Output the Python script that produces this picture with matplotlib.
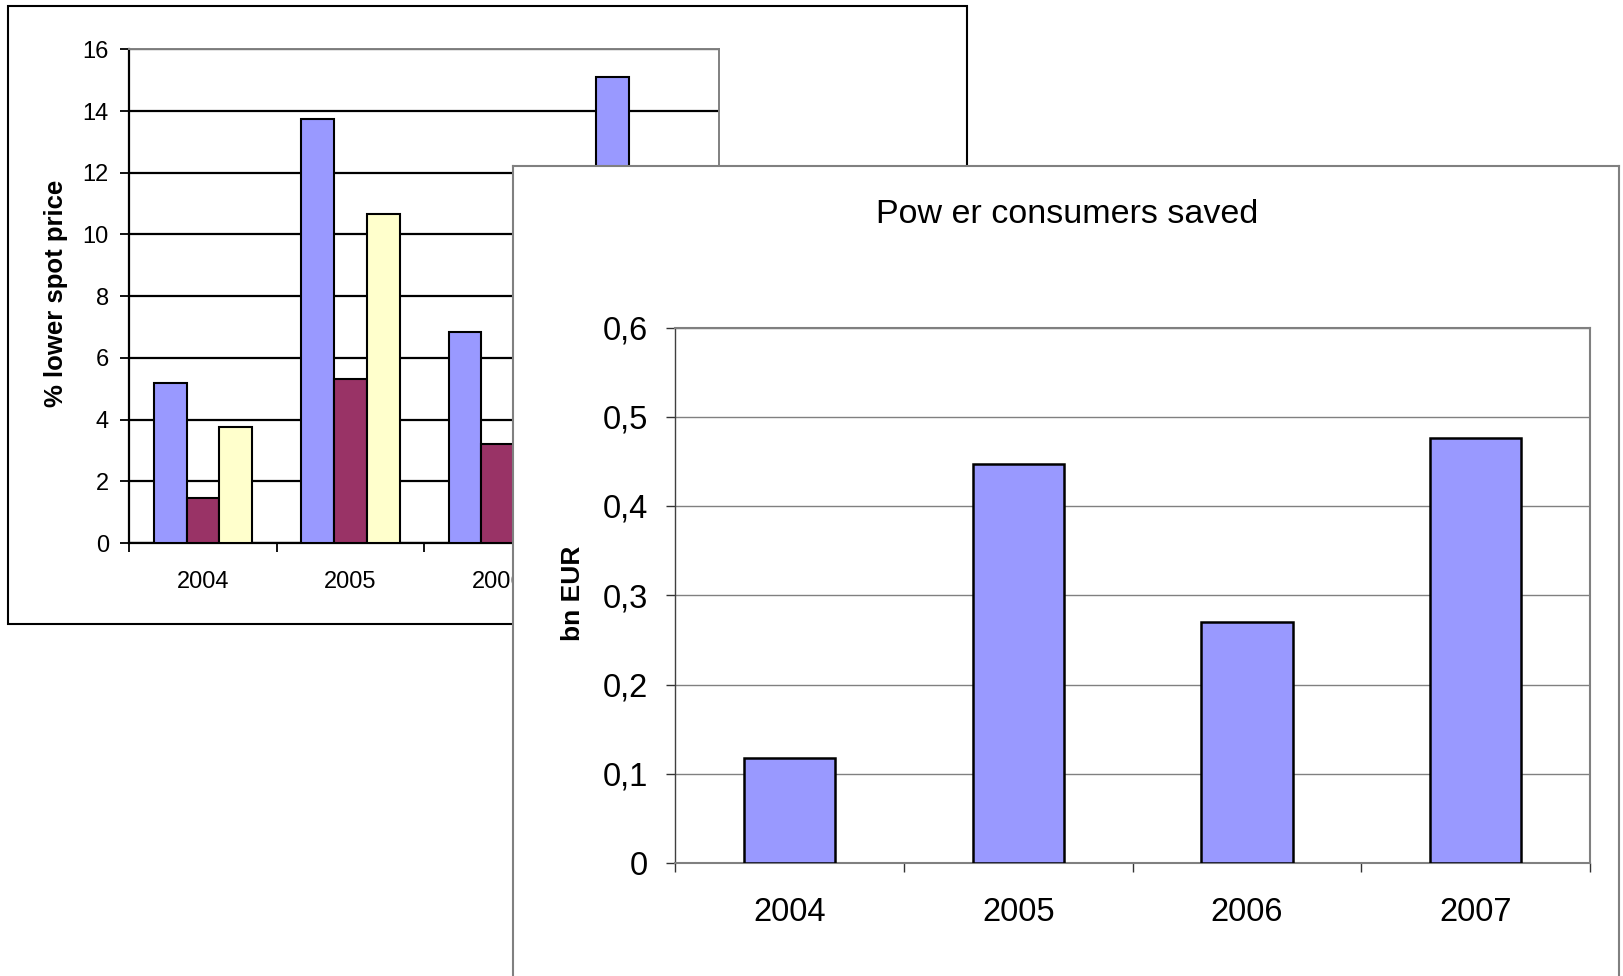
import matplotlib
matplotlib.use("Agg")
import matplotlib.pyplot as plt
from matplotlib.patches import Rectangle
import numpy as np

plt.rcParams['font.family'] = ['Liberation Sans', 'DejaVu Sans']

# ---------------- data ----------------
years = ["2004", "2005", "2006", "2007"]
# back chart (% lower spot price), three series
back_series_a = [5.2, 13.75, 6.85, 15.1]
back_series_b = [1.45, 5.3, 3.2, 5.9]
back_series_c = [3.75, 10.65, 4.9, 10.1]
back_yticks = [0, 2, 4, 6, 8, 10, 12, 14, 16]
back_ylabel = "% lower spot price"
# front chart
front_title = "Pow er consumers saved"
front_values = [0.118, 0.447, 0.270, 0.476]
front_yticks = [0, 0.1, 0.2, 0.3, 0.4, 0.5, 0.6]
front_yticklabels = ["0", "0,1", "0,2", "0,3", "0,4", "0,5", "0,6"]
front_ylabel = "bn EUR"

W, H = 1624, 976
fig = plt.figure(figsize=(W / 100, H / 100), dpi=100)

def fx(px):
    return px / W

def fy(py):
    return 1 - py / H

BLUE = "#9999FF"
MAROON = "#993366"
YELLOW = "#FFFFCC"
GRAY = "#808080"

# ---------------- back chart ----------------
back_frame = Rectangle((fx(8.3), fy(623.5)), fx(967) - fx(8.3), fy(6.2) - fy(623.5),
                       transform=fig.transFigure, facecolor="white",
                       edgecolor="black", linewidth=1.5, zorder=0)
fig.patches.append(back_frame)

axb = fig.add_axes([fx(129.3), fy(543), fx(719) - fx(129.3), fy(49.3) - fy(543)])
axb.set_zorder(1)
x = np.arange(len(years))
bw = 1 / 4.5
for i, (vals, col) in enumerate([(back_series_a, BLUE), (back_series_b, MAROON), (back_series_c, YELLOW)]):
    axb.bar(x + (i - 1) * bw, vals, width=bw, color=col, edgecolor="black",
            linewidth=1.5, zorder=3)
axb.set_xlim(-0.5, len(years) - 0.5)
axb.set_ylim(0, 16)
axb.set_yticks(back_yticks)
axb.set_yticklabels([str(v) for v in back_yticks], fontsize=17)
axb.set_xticks(np.arange(-0.5, len(years)), labels=[""] * (len(years) + 1))
axb.set_xticks(x, labels=years, minor=True)
axb.tick_params(axis="x", which="major", length=6.5, width=1.3, direction="out", color="black")
axb.tick_params(axis="x", which="minor", length=0, pad=20, labelsize=17)
axb.tick_params(axis="y", length=6.2, width=1.3, direction="out", pad=8.5, color="black")
axb.yaxis.grid(True, color="black", linewidth=1.6, zorder=0)
axb.set_axisbelow(True)
for s in ["left", "bottom"]:
    axb.spines[s].set_color("black")
    axb.spines[s].set_linewidth(1.6)
for s in ["top", "right"]:
    axb.spines[s].set_color(GRAY)
    axb.spines[s].set_linewidth(1.4)
# the last back-chart category label lies fully behind the front chart
hidden_clip = Rectangle((0, 0), fx(512.7), 1, transform=fig.transFigure)
for lbl in axb.get_xticklabels(minor=True):
    lbl.set_clip_path(hidden_clip)
axb.get_xticklabels(minor=True)[-1].set_visible(False)
fig.text(fx(56), fy(293), back_ylabel, rotation=90, ha="center", va="center",
         fontsize=18.5, fontweight="bold", zorder=1)

# ---------------- front chart ----------------
axf_frame = fig.add_axes([fx(512.7), -0.05, fx(1619.3) - fx(512.7), fy(165.7) + 0.05])
axf_frame.set_zorder(2)
axf_frame.set_xticks([])
axf_frame.set_yticks([])
axf_frame.set_facecolor("white")
for s in axf_frame.spines.values():
    s.set_color(GRAY)
    s.set_linewidth(1.5)

axf = fig.add_axes([fx(675.3), fy(863), fx(1590) - fx(675.3), fy(327.5) - fy(863)])
axf.set_zorder(3)
axf.set_facecolor("none")
axf.bar(x, front_values, width=1 / 2.5, color=BLUE, edgecolor="black", linewidth=1.8, zorder=3)
axf.set_xlim(-0.5, len(years) - 0.5)
axf.set_ylim(0, 0.6)
axf.set_yticks(front_yticks)
axf.set_yticklabels(front_yticklabels, fontsize=23.5)
axf.set_xticks(np.arange(-0.5, len(years)), labels=[""] * (len(years) + 1))
axf.set_xticks(x, labels=years, minor=True)
axf.tick_params(axis="x", which="major", length=6.7, width=1.0, direction="out", color="#333333")
axf.tick_params(axis="x", which="minor", length=0, pad=24.5, labelsize=23.5)
axf.tick_params(axis="y", length=6.7, width=1.0, direction="out", pad=13, color="#333333")
axf.yaxis.grid(True, color=GRAY, linewidth=1.0, zorder=0)
axf.set_axisbelow(True)
axf.spines["left"].set_color("#404040")
axf.spines["left"].set_linewidth(1.0)
axf.spines["bottom"].set_color(GRAY)
axf.spines["bottom"].set_linewidth(1.5)
for s in ["top", "right"]:
    axf.spines[s].set_color(GRAY)
    axf.spines[s].set_linewidth(1.5)

fig.text(fx(1067.5), fy(223), front_title, ha="center", va="baseline",
         fontsize=24.5, zorder=5)
fig.text(fx(573), fy(593), front_ylabel, rotation=90, ha="center", va="center",
         fontsize=19, fontweight="bold", zorder=5)

fig.savefig("out.png", dpi=100)
